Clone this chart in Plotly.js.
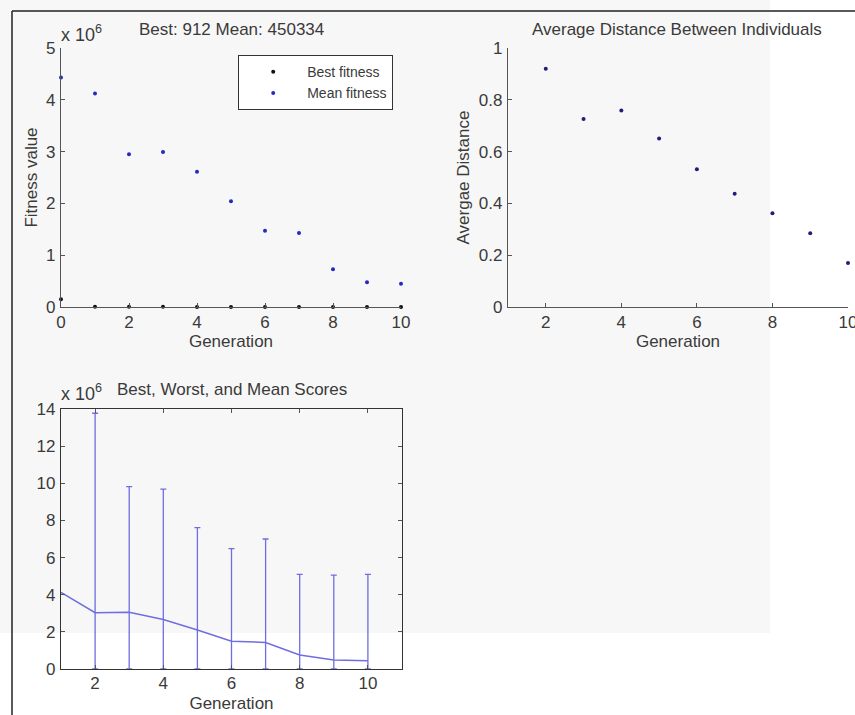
<!DOCTYPE html>
<html>
<head>
<meta charset="utf-8">
<script src="https://cdn.plot.ly/plotly-3.0.1.min.js"></script>
<style>html,body{margin:0;padding:0;background:#fff;}#chart{width:855px;height:715px;}</style>
</head>
<body>
<div id="chart"></div>
<script>
// ---- Data (fitness values in units of 10^6) ----
const generations = [0, 1, 2, 3, 4, 5, 6, 7, 8, 9, 10];
const bestFitness = [0.15, 0.004, 0.003, 0.003, 0.002, 0.002, 0.002, 0.001, 0.001, 0.001, 0.000912];
const meanFitness = [4.43, 4.12, 2.95, 2.99, 2.61, 2.04, 1.47, 1.43, 0.73, 0.48, 0.45];

const distGenerations = [2, 3, 4, 5, 6, 7, 8, 9, 10];
const avgDistance = [0.92, 0.726, 0.759, 0.651, 0.532, 0.437, 0.362, 0.285, 0.17];

const scoreGenerations = [1, 2, 3, 4, 5, 6, 7, 8, 9, 10];
const scoreMean  = [4.13, 3.03, 3.05, 2.67, 2.10, 1.50, 1.43, 0.75, 0.48, 0.45];
const scoreWorst = [null, 13.77, 9.82, 9.69, 7.61, 6.48, 7.00, 5.10, 5.05, 5.10];
const scoreBest  = [null, 0.003, 0.003, 0.002, 0.002, 0.002, 0.001, 0.001, 0.001, 0.000912];

const titleTop = 'Best: 912 Mean: 450334';
const titleDist = 'Average Distance Between Individuals';
const titleScores = 'Best, Worst, and Mean Scores';

// ---- Helpers ----
const W = 855, H = 715;
const px = p => p / W;
const py = p => 1 - p / H;
const FONT = 'Liberation Sans, Arial, sans-serif';
const TXT = '#3a3a3a';
const AX = '#555555';

const errPlus  = scoreWorst.map((w, i) => w === null ? NaN : w - scoreMean[i]);
const errMinus = scoreBest.map((b, i) => b === null ? NaN : scoreMean[i] - b);

const traces = [
  { x: generations, y: bestFitness, type: 'scatter', mode: 'markers', name: 'Best fitness',
    marker: { color: '#111111', size: 4 }, xaxis: 'x', yaxis: 'y', cliponaxis: false },
  { x: generations, y: meanFitness, type: 'scatter', mode: 'markers', name: 'Mean fitness',
    marker: { color: 'rgb(40,40,190)', size: 4 }, xaxis: 'x', yaxis: 'y', cliponaxis: false },
  { x: distGenerations, y: avgDistance, type: 'scatter', mode: 'markers', showlegend: false,
    marker: { color: 'rgb(30,30,120)', size: 4 }, xaxis: 'x2', yaxis: 'y2', cliponaxis: false },
  { x: scoreGenerations, y: scoreMean, type: 'scatter', mode: 'lines', showlegend: false,
    line: { color: 'rgb(110,110,225)', width: 1.5 },
    error_y: { type: 'data', symmetric: false, array: errPlus, arrayminus: errMinus,
               color: 'rgb(110,110,225)', thickness: 1.3, width: 3 },
    xaxis: 'x3', yaxis: 'y3' }
];

const tickFont = { family: FONT, size: 17, color: TXT };
const titleFont = { family: FONT, size: 17, color: TXT };

const baseAxis = {
  showgrid: false, zeroline: false, showline: true, linecolor: AX, linewidth: 1.2,
  ticks: 'inside', ticklen: 4, tickcolor: AX, tickfont: tickFont, ticklabelstandoff: 1
};

const layout = {
  width: W, height: H,
  margin: { l: 0, r: 0, t: 0, b: 0 },
  paper_bgcolor: '#ffffff',
  plot_bgcolor: 'rgba(0,0,0,0)',
  font: { family: FONT, color: TXT },
  showlegend: true,
  legend: {
    x: px(238), y: py(55), xanchor: 'left', yanchor: 'top',
    bgcolor: '#ffffff', bordercolor: '#333333', borderwidth: 1.2,
    font: { family: FONT, size: 14, color: TXT }, itemwidth: 58, tracegroupgap: 0
  },
  xaxis: Object.assign({}, baseAxis, {
    domain: [px(61), px(401)], range: [0, 10.0001], dtick: 2, tick0: 0, anchor: 'y',
    ticklabelstandoff: -1,
    title: { text: 'Generation', font: titleFont, standoff: 0 }
  }),
  yaxis: Object.assign({}, baseAxis, {
    domain: [py(307), py(48)], range: [0, 5], dtick: 1, tick0: 0, anchor: 'x',
    title: { text: 'Fitness value', font: titleFont, standoff: 4 }
  }),
  xaxis2: Object.assign({}, baseAxis, {
    domain: [px(508), px(848)], range: [1, 10.0001], dtick: 2, tick0: 0, anchor: 'y2',
    ticklabelstandoff: -1, ticklabeloverflow: 'allow',
    title: { text: 'Generation', font: titleFont, standoff: 0 }
  }),
  yaxis2: Object.assign({}, baseAxis, {
    domain: [py(307), py(48)], range: [0, 1], dtick: 0.2, tick0: 0, anchor: 'x2',
    title: { text: 'Avergae Distance', font: titleFont, standoff: 4 }
  }),
  xaxis3: Object.assign({}, baseAxis, {
    domain: [px(61), px(402)], range: [1, 11], dtick: 2, tick0: 0, anchor: 'y3',
    mirror: 'ticks', linecolor: '#333333', ticklabelstandoff: -2,
    title: { text: 'Generation', font: titleFont, standoff: 5 }
  }),
  yaxis3: Object.assign({}, baseAxis, {
    domain: [py(669), py(409)], range: [0, 14], dtick: 2, tick0: 0, anchor: 'x3',
    mirror: 'ticks', linecolor: '#333333'
  }),
  shapes: [
    { type: 'rect', xref: 'paper', yref: 'paper', x0: 0, x1: px(770), y0: py(633), y1: 1,
      fillcolor: '#f7f7f7', line: { width: 0 }, layer: 'below' },
    { type: 'line', xref: 'paper', yref: 'paper', x0: px(12), x1: 1, y0: py(11), y1: py(11),
      line: { color: '#222222', width: 1.5 } },
    { type: 'line', xref: 'paper', yref: 'paper', x0: px(12), x1: px(12), y0: py(11), y1: 0,
      line: { color: '#222222', width: 1.5 } }
  ],
  annotations: [
    { text: titleTop, xref: 'paper', yref: 'paper', x: px(231), y: py(29.5),
      xanchor: 'center', yanchor: 'middle', showarrow: false, font: titleFont },
    { text: titleDist, xref: 'paper', yref: 'paper', x: px(677), y: py(29),
      xanchor: 'center', yanchor: 'middle', showarrow: false, font: titleFont },
    { text: titleScores, xref: 'paper', yref: 'paper', x: px(232), y: py(389),
      xanchor: 'center', yanchor: 'middle', showarrow: false, font: titleFont },
    { text: 'x 10<sup>6</sup>', xref: 'paper', yref: 'paper', x: px(59), y: py(33),
      xanchor: 'left', yanchor: 'middle', showarrow: false, font: { family: FONT, size: 18, color: TXT } },
    { text: 'x 10<sup>6</sup>', xref: 'paper', yref: 'paper', x: px(59), y: py(392),
      xanchor: 'left', yanchor: 'middle', showarrow: false, font: { family: FONT, size: 18, color: TXT } }
  ]
};

Plotly.newPlot('chart', traces, layout, { staticPlot: true, displayModeBar: false });
</script>
</body>
</html>
